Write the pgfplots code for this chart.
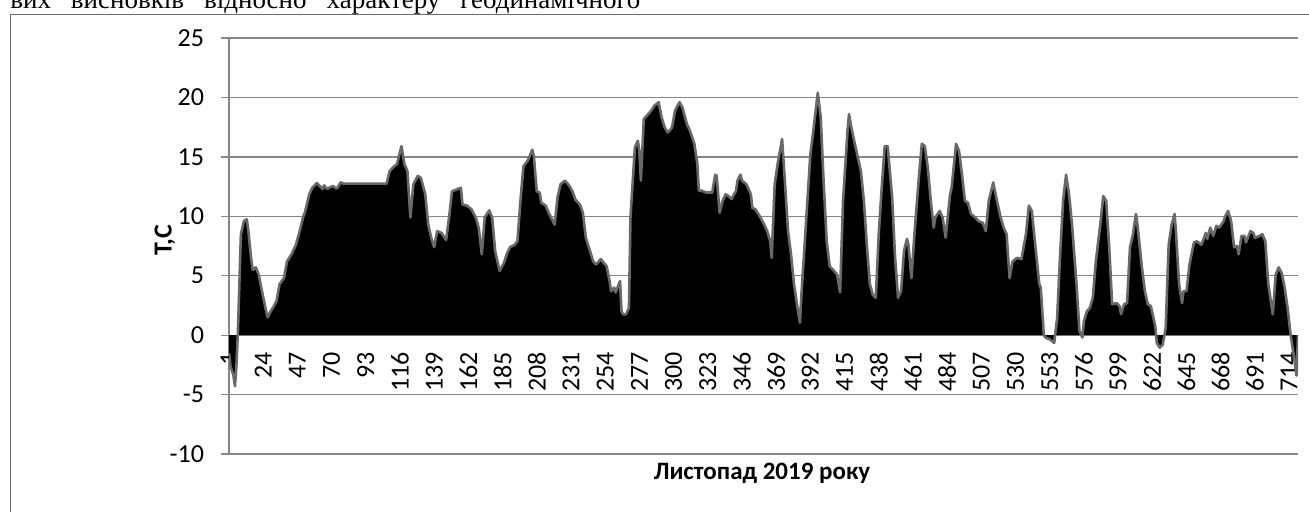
\documentclass[border=0pt]{standalone}
\usepackage{pgfplots}
\pgfplotsset{compat=1.18}
\usepackage{pgfplotstable}
\usepackage{fontspec}
\setmainfont{Carlito}
\newfontfamily\serifcyr{Liberation Serif}
\definecolor{gridgray}{RGB}{134,134,134}
\definecolor{outlinegray}{RGB}{105,105,105}
\definecolor{framegray}{RGB}{110,110,110}

\pgfplotstableread{
x y
1 -1.5
2 -2.6
3 -3.0
4 -3.4
5 -4.3
6 -2.5
7 0.3
9 8.5
11 9.6
13 9.75
14 8.8
16 6.3
17 5.5
19 5.7
21 5.1
23 3.8
26 2.0
27 1.5
29 2.0
31 2.4
33 2.9
35 4.3
38 4.8
40 6.2
43 6.8
46 7.6
48 8.5
51 10.0
52 10.3
55 11.85
57 12.4
60 12.8
62 12.55
64 12.3
65 12.6
67 12.3
69 12.45
71 12.55
73 12.35
74 12.4
76 12.85
78 12.75
107 12.75
109 13.8
112 14.2
114 14.4
117 15.9
119 14.4
121 13.8
123 9.9
125 12.7
128 13.4
130 13.25
133 11.85
135 9.3
137 8.2
139 7.4
141 8.75
144 8.6
147 8.0
149 9.9
151 12.1
155 12.3
157 12.4
158 11.0
161 10.9
164 10.6
167 9.9
169 9.0
171 6.8
173 9.9
176 10.5
178 9.9
180 7.1
183 5.4
186 6.1
188 6.9
190 7.4
193 7.6
195 7.9
197 11.3
199 14.2
202 14.7
205 15.6
206 15.1
208 12.1
210 12.0
211 11.15
214 10.9
216 10.3
220 9.3
222 11.6
224 12.7
227 13.0
230 12.55
232 12.1
234 11.4
237 11.0
239 10.3
241 8.2
243 7.4
246 6.2
248 5.95
251 6.4
255 5.8
257 4.55
258 3.7
260 4.0
261 3.6
264 4.55
265 2.0
266 1.75
268 1.75
270 2.3
271 9.9
274 15.8
276 16.35
277 15.5
278 13.0
280 18.2
283 18.6
285 18.9
287 19.3
290 19.6
292 18.3
294 17.5
296 17.05
298 17.3
299 17.5
301 18.9
304 19.6
306 19.15
309 17.75
311 17.2
314 16.1
316 14.4
317 12.15
319 12.15
322 12.0
326 12.0
328 13.5
329 13.4
331 10.3
333 11.3
335 11.85
337 11.7
339 11.45
342 12.15
343 13.0
345 13.5
346 13.0
349 12.7
352 11.85
353 10.7
355 10.6
358 10.0
361 9.3
363 8.75
365 7.9
366 6.5
368 12.7
370 14.4
373 16.5
375 12.7
377 8.75
379 6.8
381 4.3
383 2.6
385 1.05
386 3.4
389 9.3
392 15.2
394 17.2
397 20.4
399 18.3
401 12.7
403 7.9
405 5.8
408 5.4
410 5.1
412 3.6
414 11.3
417 17.2
418 18.6
420 17.2
423 15.5
426 13.8
428 11.3
430 7.6
432 4.3
434 3.4
436 3.15
438 8.5
440 12.4
442 15.9
444 15.9
447 11.6
449 6.5
451 3.15
453 3.7
455 7.1
457 8.1
458 7.6
460 4.8
462 8.5
465 13.3
467 16.1
469 15.9
471 14.1
473 11.3
475 9.05
476 9.9
479 10.45
481 9.9
483 8.2
486 11.85
487 12.4
490 16.1
492 15.5
494 13.5
496 11.3
498 11.15
500 10.2
503 9.9
505 9.6
508 9.45
510 8.75
512 11.3
515 12.85
517 11.6
520 9.9
522 9.05
524 8.5
526 4.8
528 6.2
531 6.5
534 6.4
537 8.5
539 10.9
541 10.45
543 7.9
546 4.3
547 4.0
549 0.05
550 -0.2
553 -0.35
556 -0.65
558 1.45
560 6.8
562 11.3
564 13.5
566 11.85
568 9.3
571 4.3
573 0.35
575 -0.2
576 1.2
578 2.0
580 2.3
582 3.15
584 6.2
587 9.3
589 11.7
591 11.3
593 7.4
595 2.6
598 2.7
600 2.45
601 1.75
603 2.6
605 2.7
607 7.4
609 8.5
611 10.2
612 9.3
615 5.7
617 3.7
619 2.6
621 2.45
624 0.75
625 -0.65
627 -1.05
629 -0.8
631 0.6
633 7.6
635 9.3
637 10.2
638 8.5
640 4.3
642 2.7
643 3.7
645 3.7
647 5.95
650 7.8
652 7.9
655 7.6
658 8.6
659 8.1
661 9.05
663 8.35
665 9.2
667 9.05
670 9.6
671 10.0
673 10.45
675 9.6
677 7.4
679 7.5
680 6.8
682 8.35
684 8.35
685 7.8
688 8.75
690 8.6
691 8.2
694 8.35
696 8.5
698 7.9
700 4.3
703 1.75
705 5.1
707 5.7
709 5.25
711 4.0
713 2.3
715 0.05
717 -1.6
719 -3.4
720 0.0
}\tempdata

\begin{document}
\begin{tikzpicture}
\begin{axis}[
  at={(114.5pt,28.5pt)}, anchor=south west,
  scale only axis, width=534.5pt, height=208pt,
  xmin=1, xmax=720, ymin=-10, ymax=25,
  axis x line*=bottom, axis y line*=left,
  x axis line style={draw=none},
  y axis line style={draw=gridgray, line width=0.65pt, -},
  ytick={-10,-5,...,25},
  xtick={1,24,...,714},
  ymajorgrids, grid style={draw=gridgray, line width=0.65pt},
  tick align=outside,
  major tick length=4pt,
  xtick style={draw=none},
  ytick style={draw=gridgray, line width=0.65pt},
  tick label style={font=\fontsize{13}{15}\selectfont},
  /pgf/number format/assume math mode=true,
  xticklabel style={rotate=90, anchor=east},
  xticklabel shift=-58.5pt,
  yticklabel style={xshift=-5pt},
  ylabel={T,C},
  ylabel style={at={(axis description cs:-0.06,0.514)}, anchor=center, rotate=0, font=\fontsize{13}{15}\selectfont\bfseries},
  xlabel={Листопад 2019 року},
  xlabel style={at={(axis description cs:0.4986,-0.0457)}, anchor=center, font=\fontsize{12.5}{15}\selectfont\bfseries},
]
\addplot[fill=black, draw=none] table {\tempdata} \closedcycle;
\addplot[draw=outlinegray, line width=1.3pt, line join=round] table {\tempdata};
\end{axis}
\draw[framegray, line width=0.5pt] (5pt,-5pt) -- (5pt,248.5pt) -- (700pt,248.5pt);
\node[anchor=base west, inner sep=0pt, font=\serifcyr\fontsize{13.5}{16}\selectfont] at (5pt,251.5pt)
  {\makebox[315pt][s]{вих висновків відносно характеру геодинамічного}};
\pgfresetboundingbox
\useasboundingbox (0,0) rectangle (654.5pt,255.5pt);
\end{tikzpicture}
\end{document}
